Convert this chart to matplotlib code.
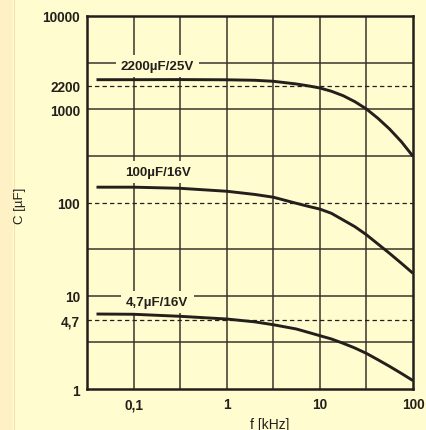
import numpy as np
import matplotlib
matplotlib.use("Agg")
import matplotlib.pyplot as plt
import matplotlib.patches as patches

plt.rcParams['font.family'] = ['Liberation Sans', 'DejaVu Sans']

# ---------------- Data ----------------
freq = [0.04, 0.1, 0.316, 1, 2, 3.16, 5.6, 7.5, 10, 13.3, 17.8, 23.8, 31.6, 42, 56, 75, 100]  # kHz
c_2200 = [2075, 2075, 2080, 2070, 2045, 1995, 1866, 1782, 1690, 1560, 1397, 1205, 1007, 800, 614, 449, 313]
c_100 = [146, 146, 142, 132, 122, 114, 98, 91, 85, 76.6, 64.9, 55, 45.1, 35.9, 28.5, 22.3, 17.4]
c_4_7 = [6.37, 6.33, 6.02, 5.63, 5.25, 4.89, 4.40, 4.05, 3.73, 3.44, 3.09, 2.75, 2.41, 2.06, 1.75, 1.47, 1.23]

series_names = ['2200\u00b5F/25V', '100\u00b5F/16V', '4,7\u00b5F/16V']
name_pos = [(0.18, 2900), (0.185, 212), (0.18, 8.5)]

# dashed nominal lines (as drawn, slightly off the nominal value on the scale)
ref_pos = [1790, 100, 5.54]

ytick_pos = [1, 5.54, 10, 100, 1000, 1790, 10000]
ytick_lab = ['1', '4,7', '10', '100', '1000', '2200', '10000']
xtick_pos = [0.1, 1, 10, 100]
xtick_lab = ['0,1', '1', '10', '100']

grid_x = [0.1, 0.316, 1, 3.16, 10, 31.6]
grid_y = [3.16, 10, 31.6, 316, 1000, 3160]

# ---------------- Styles ----------------
BG = '#fffdcf'
OUTER = '#fff1c6'
INK = '#231f1c'
GRID = '#3a332b'

fig = plt.figure(figsize=(4.26, 4.31), dpi=100, facecolor=BG)
fig.patches.append(patches.Rectangle((0, 0), 13 / 426, 1, transform=fig.transFigure,
                                     facecolor=OUTER, edgecolor='none', zorder=0))
fig.lines.append(plt.Line2D([13.5 / 426, 13.5 / 426], [0, 1], transform=fig.transFigure,
                            color='#f5e2b0', lw=0.8))

ax = fig.add_axes([87 / 426, 1 - 390 / 431, 326 / 426, 373 / 431])
ax.set_facecolor(BG)
ax.set_xscale('log')
ax.set_yscale('log')
ax.set_xlim(10 ** -1.5, 100)
ax.set_ylim(1, 10000)

for gx in grid_x:
    ax.axvline(gx, color=GRID, lw=1.1, zorder=1)
for gy in grid_y:
    ax.axhline(gy, color=GRID, lw=1.1, zorder=1)
for ry in ref_pos:
    ax.axhline(ry, color=INK, lw=0.9, ls=(0, (3.5, 2.5)), zorder=2)

for cs in (c_2200, c_100, c_4_7):
    ax.plot(freq, cs, color=INK, lw=2.1, solid_capstyle='butt', solid_joinstyle='round', zorder=4)

for name, (tx, ty) in zip(series_names, name_pos):
    ax.text(tx, ty, name, ha='center', va='center', fontsize=9.6, fontweight='bold',
            color=INK, zorder=3,
            bbox=dict(boxstyle='square,pad=0.38', facecolor=BG, edgecolor='none'))

ax.set_xticks(xtick_pos)
ax.set_xticklabels(xtick_lab)
ax.set_yticks(ytick_pos)
ax.set_yticklabels(ytick_lab)
ax.minorticks_off()
ax.tick_params(axis='both', length=0, labelsize=9.8, labelcolor=INK)
ax.tick_params(axis='x', pad=6)
ax.tick_params(axis='y', pad=5)
for lab in ax.get_xticklabels() + ax.get_yticklabels():
    lab.set_fontweight('bold')

for sp in ax.spines.values():
    sp.set_color(INK)
    sp.set_linewidth(1.8)
    sp.set_zorder(5)

fig.text(270 / 426, 1 - 425 / 431, 'f [kHz]', ha='center', va='center', fontsize=10, color=INK)
fig.text(20 / 426, 1 - 206 / 431, 'C [\u00b5F]', ha='center', va='center', rotation=90,
         fontsize=9.5, color=INK)

fig.savefig('out.png', dpi=100, facecolor=BG)
